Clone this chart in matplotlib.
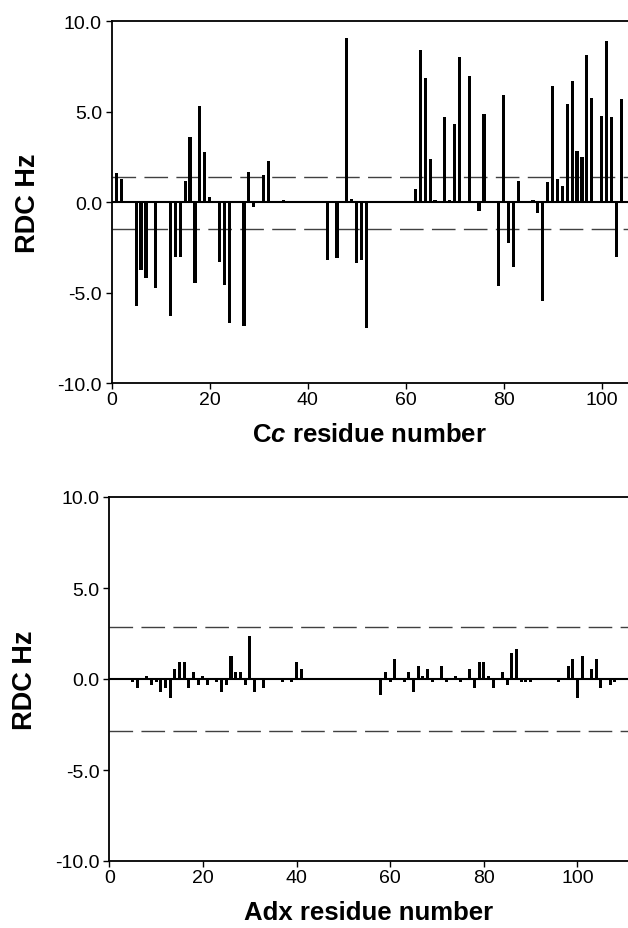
import matplotlib.pyplot as plt

plt.rcParams['font.family'] = ['Liberation Sans', 'DejaVu Sans']
plt.rcParams['mathtext.fontset'] = 'custom'
plt.rcParams['mathtext.rm'] = 'Liberation Sans:bold'
plt.rcParams['mathtext.it'] = 'Liberation Sans:italic:bold'
plt.rcParams['mathtext.bf'] = 'Liberation Sans:bold'

# Cc residues and RDC values (Hz)
cc_res = [1, 2, 5, 6, 7, 9, 12, 13, 14, 15, 16, 17, 18, 19, 20, 22, 23, 24,
          27, 28, 29, 31, 32, 35, 44, 46, 48, 49, 50, 51, 52,
          62, 63, 64, 65, 66, 68, 69, 70, 71, 73, 75, 76,
          79, 80, 81, 82, 83, 86, 87, 88, 89, 90, 91, 92, 93, 94, 95, 96, 97, 98,
          100, 101, 102, 103, 104]
cc_rdc = [1.58, 1.27, -5.76, -3.74, -4.22, -4.75, -6.30, -3.02, -3.02, 1.18, 3.57, -4.49,
          5.30, 2.74, 0.26, -3.30, -4.57, -6.69, -6.87, 1.64, -0.29, 1.49, 2.28,
          0.10, -3.20, -3.11, 9.04, 0.17, -3.37, -3.20, -6.96,
          0.72, 8.41, 6.85, 2.36, 0.09, 4.68, 0.10, 4.31, 8.03, 6.94, -0.48, 4.84,
          -4.66, 5.93, -2.28, -3.57, 1.18, 0.09, -0.63, -5.49, 1.10, 6.39, 1.27, 0.90,
          5.41, 6.69, 2.82, 2.47, 8.12, 5.76, 4.75, 8.88, 4.68, -3.02, 5.67]
cc_limit = [1.4, -1.5]

# Adx residues and RDC values (Hz)
adx_res = [5, 6, 8, 9, 10, 11, 12, 13, 14, 15, 16, 17, 18, 19, 20, 21, 23, 24, 25,
           26, 27, 28, 29, 30, 31, 33, 37, 39, 40, 41,
           58, 59, 60, 61, 63, 64, 65, 66, 67, 68, 69, 71, 72, 74, 75, 77, 78, 79,
           80, 81, 82, 84, 85, 86, 87, 88, 89, 90, 96, 98, 99, 100, 101, 103, 104,
           105, 107, 108]
adx_rdc = [-0.15, -0.51, 0.18, -0.33, -0.15, -0.73, -0.51, -1.05, 0.55, 0.91, 0.91,
           -0.51, 0.36, -0.33, 0.18, -0.33, -0.15, -0.69, -0.33, 1.29, 0.36, 0.36,
           -0.33, 2.36, -0.69, -0.51, -0.15, -0.15, 0.91, 0.55,
           -0.87, 0.36, -0.15, 1.09, -0.15, 0.36, -0.73, 0.73, 0.18, 0.55, -0.15,
           0.73, -0.15, 0.18, -0.15, 0.55, -0.51, 0.91, 0.91, 0.18, -0.51, 0.36,
           -0.33, 1.45, 1.64, -0.15, -0.15, -0.15, -0.15, 0.73, 1.09, -1.05, 1.27,
           0.55, 1.09, -0.51, -0.33, -0.18]
adx_limit = [2.85, -2.85]

fig = plt.figure(figsize=(6.28, 9.29), dpi=100)
ax1 = fig.add_axes([111.7 / 628, 1 - 384 / 929, 1 - 111.7 / 628, 362 / 929])
ax2 = fig.add_axes([109.3 / 628, 1 - 862 / 929, 1 - 109.3 / 628, 364 / 929])


def draw(ax, res, rdc, limit, xmax, xlabel):
    ax.bar(res, rdc, width=0.65, color='black', zorder=3)
    ax.axhline(0, color='black', lw=1.5, zorder=2)
    for v in limit:
        ax.axhline(v, color='#404040', lw=1.0, dashes=(17, 6), zorder=1)
    ax.set_xlim(0, xmax)
    ax.set_ylim(-10, 10)
    ax.set_xticks([0, 20, 40, 60, 80, 100])
    ax.set_yticks([-10, -5, 0, 5, 10])
    ax.set_yticklabels(['-10.0', '-5.0', '0.0', '5.0', '10.0'])
    ax.spines['right'].set_visible(False)
    for s in ['left', 'bottom', 'top']:
        ax.spines[s].set_linewidth(1.3)
    ax.tick_params(axis='both', direction='out', length=4, width=1,
                   labelsize=14, colors='black')
    ax.tick_params(axis='x', pad=1.5)
    ax.tick_params(axis='y', pad=3)
    ax.set_ylabel('RDC Hz', fontsize=19.5, fontweight='bold', labelpad=12)
    ax.set_xlabel(xlabel, fontsize=18.5, fontweight='bold', labelpad=10)


draw(ax1, cc_res, cc_rdc, cc_limit, 105.4, 'C$\\mathit{c}$ residue number')
draw(ax2, adx_res, adx_rdc, adx_limit, 110.8, 'Adx residue number')

plt.savefig('out.png', dpi=100)
